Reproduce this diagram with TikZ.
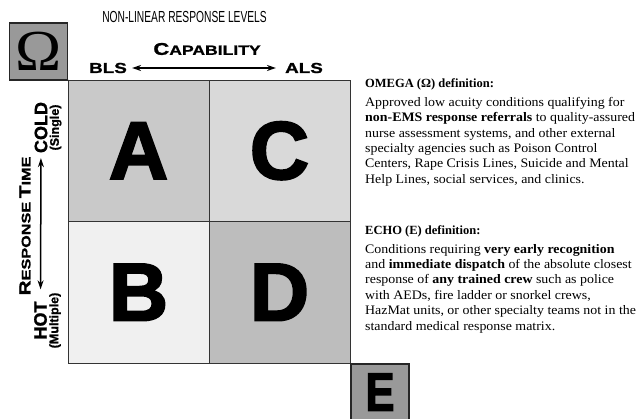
\documentclass[tikz,border=0pt]{standalone}
\usepackage{fontspec}
\setmainfont[FakeStretch=1.07]{Liberation Serif}
\newfontfamily\headfont[UprightFont={* Bold}]{Liberation Serif}
% heavy sans for the cell letters and the E box
\newfontfamily\heavyfont[UprightFont={* Bold},FakeBold=2.5]{Liberation Sans}
\newfontfamily\heavycond[UprightFont={* Bold},FakeBold=2.5,FakeStretch=0.8]{Liberation Sans}
% axis labels
\newfontfamily\axisfont[UprightFont={* Bold},FakeBold=1]{Liberation Sans}
\newfontfamily\axiswide[UprightFont={* Bold},FakeBold=1.2,FakeStretch=1.3]{Liberation Sans}
\newfontfamily\titlefont[FakeStretch=0.64]{Liberation Sans}
\usetikzlibrary{positioning,arrows.meta}

\definecolor{markgray}{gray}{0.6}
\definecolor{cellAgray}{gray}{0.79}
\definecolor{cellBgray}{gray}{0.94}
\definecolor{cellCgray}{gray}{0.85}
\definecolor{cellDgray}{gray}{0.74}

% small caps made by hand: big first letter, smaller rest
\newcommand{\handsc}[4]{{\fontsize{#1}{#1}\selectfont #3}{\fontsize{#2}{#2}\selectfont #4}}

\begin{document}
\begin{tikzpicture}[x=1pt,y=-1pt,
    cell/.style={draw=black!80, line width=0.9pt, minimum width=141pt,
      minimum height=141.5pt, inner sep=0pt,
      font=\heavyfont\fontsize{82}{82}\selectfont},
    markbox/.style={draw=black!85, line width=1.2pt, fill=markgray,
      minimum width=58pt, minimum height=57pt, inner sep=0pt},
    endlabel/.style={font=\axiswide\fontsize{14.5}{14.5}\selectfont, inner sep=1pt},
    sidelabel/.style={font=\axisfont\fontsize{18}{18}\selectfont, inner sep=1pt, rotate=90},
    hint/.style={font=\axisfont\fontsize{12.5}{12.5}\selectfont, inner sep=1pt, rotate=90},
    heading/.style={font=\headfont\fontsize{12.5}{14}\selectfont, anchor=north west, inner sep=0pt},
    deftext/.style={font=\fontsize{13}{15.4}\selectfont, align=left, anchor=north west, inner sep=0pt},
    twoway/.style={{Stealth[length=9pt,width=6pt]}-{Stealth[length=9pt,width=6pt]}, line width=1.5pt}]

  \useasboundingbox (0,0) rectangle (642,419);

  % the four response cells
  \node[cell, fill=cellAgray] (cellA) at (138.5,150.75) {A};
  \node[cell, fill=cellBgray] (cellB) at (138.5,292.25) {B};
  \node[cell, fill=cellCgray] (cellC) at (279.5,150.75) {C};
  \node[cell, fill=cellDgray] (cellD) at (279.5,292.25) {D};

  % omega and echo corners
  \node[markbox] (omega) at (38.5,51.5) {\fontsize{58}{58}\selectfont Ω};
  \node[markbox, minimum height=56pt, anchor=north west] (echo) at (cellD.south east) {\heavycond\fontsize{54}{54}\selectfont E};
  \draw[black!85, line width=1pt] (omega.south east) -- (cellA.north west);

  % capability axis
  \node[font=\titlefont\fontsize{16}{16}\selectfont] (title) at (184.5,17) {NON-LINEAR RESPONSE LEVELS};
  \node[font=\axiswide] (capability) at (207,49) {\handsc{17}{13.5}{C}{APABILITY}};
  \node[endlabel] (bls) at (108,68) {BLS};
  \node[endlabel] (als) at (304,68) {ALS};
  \draw[twoway, shorten <=4pt, shorten >=8pt] (bls) -- (als);

  % response time axis
  \node[font=\axiswide, rotate=90] (resptime) at (25,226) {\handsc{16}{12.5}{R}{ESPONSE} \handsc{16}{12.5}{T}{IME}};
  \node[sidelabel] (cold) at (41,127.5) {COLD};
  \node[hint, anchor=north] (single) at (cold.south) {(Single)};
  \node[sidelabel] (hot) at (40.5,320.5) {HOT};
  \node[hint, anchor=north] (multiple) at (hot.south) {(Multiple)};
  \draw[twoway, shorten <=11pt, shorten >=4pt] (hot) -- (cold);

  % definitions
  \node[heading] (omegahead) at (365,79) {OMEGA (Ω) definition:};
  \node[deftext, below=6pt of omegahead.south west, anchor=north west] (omegatext) {%
    Approved low acuity conditions qualifying for\\
    \textbf{non-EMS response referrals} to quality-assured\\
    nurse assessment systems, and other external\\
    specialty agencies such as Poison Control\\
    Centers, Rape Crisis Lines, Suicide and Mental\\
    Help Lines, social services, and clinics.};
  \node[heading] (echohead) at (365,226) {ECHO (E) definition:};
  \node[deftext, below=6pt of echohead.south west, anchor=north west] (echotext) {%
    Conditions requiring \textbf{very early recognition}\\
    and \textbf{immediate dispatch} of the absolute closest\\
    response of \textbf{any trained crew} such as police\\
    with AEDs, fire ladder or snorkel crews,\\
    HazMat units, or other specialty teams not in the\\
    standard medical response matrix.};
\end{tikzpicture}
\end{document}
